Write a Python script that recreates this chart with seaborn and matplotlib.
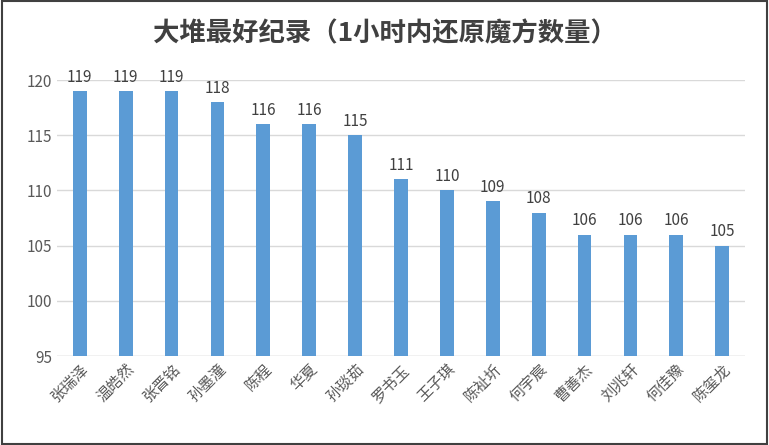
import matplotlib
matplotlib.use("Agg")
import matplotlib.pyplot as plt
import seaborn as sns
import pandas as pd

names = ['张瑞泽', '温皓然', '张晋铭', '孙墨潼', '陈程', '华夏', '孙琰茹', '罗书玉',
         '王子琪', '陈祉圻', '何宇宸', '曹善杰', '刘兆轩', '何佳豫', '陈玺龙']
scores = [119, 119, 119, 118, 116, 116, 115, 111, 110, 109, 108, 106, 106, 106, 105]
yticks = [95, 100, 105, 110, 115, 120]

plt.rcParams['font.family'] = ['Noto Sans CJK SC', 'DejaVu Sans']
df = pd.DataFrame({'name': names, 'score': scores})

fig = plt.figure(figsize=(7.69, 4.45), dpi=100)
ax = fig.add_axes([0.074, 0.2, 0.895, 0.62])
sns.barplot(data=df, x='name', y='score', color='#5b9bd5', saturation=1, width=0.3, ax=ax, zorder=3)
ax.set_ylim(95, 120)
ax.set_yticks(yticks)
ax.yaxis.grid(True, color='#d9d9d9', linewidth=1)
ax.set_xlim(-0.5, len(names) - 0.5)
for i, v in enumerate(scores):
    ax.text(i, v + 0.5, str(v), ha='center', va='bottom', fontsize=11, color='#404040')
ax.set_xlabel('')
ax.set_ylabel('')
ax.tick_params(axis='y', length=0, labelsize=11, labelcolor='#595959')
ax.tick_params(axis='x', length=0, labelsize=11, labelcolor='#595959')
for lbl in ax.get_xticklabels():
    lbl.set_rotation(45)
    lbl.set_ha('right')
    lbl.set_rotation_mode('anchor')
sns.despine(ax=ax, left=True, bottom=True)
ax.axhline(95, color='#d9d9d9', linewidth=1, zorder=2)
fig.text(0.5, 0.925, '大堆最好纪录（1小时内还原魔方数量）', ha='center', va='center',
         fontsize=19, fontweight='bold', color='#404040')
fig.patches.append(plt.Rectangle((0.002, 0.003), 0.996, 0.994, transform=fig.transFigure,
                                 fill=False, edgecolor='#404040', linewidth=1.5))
fig.savefig('out.png', dpi=100)
